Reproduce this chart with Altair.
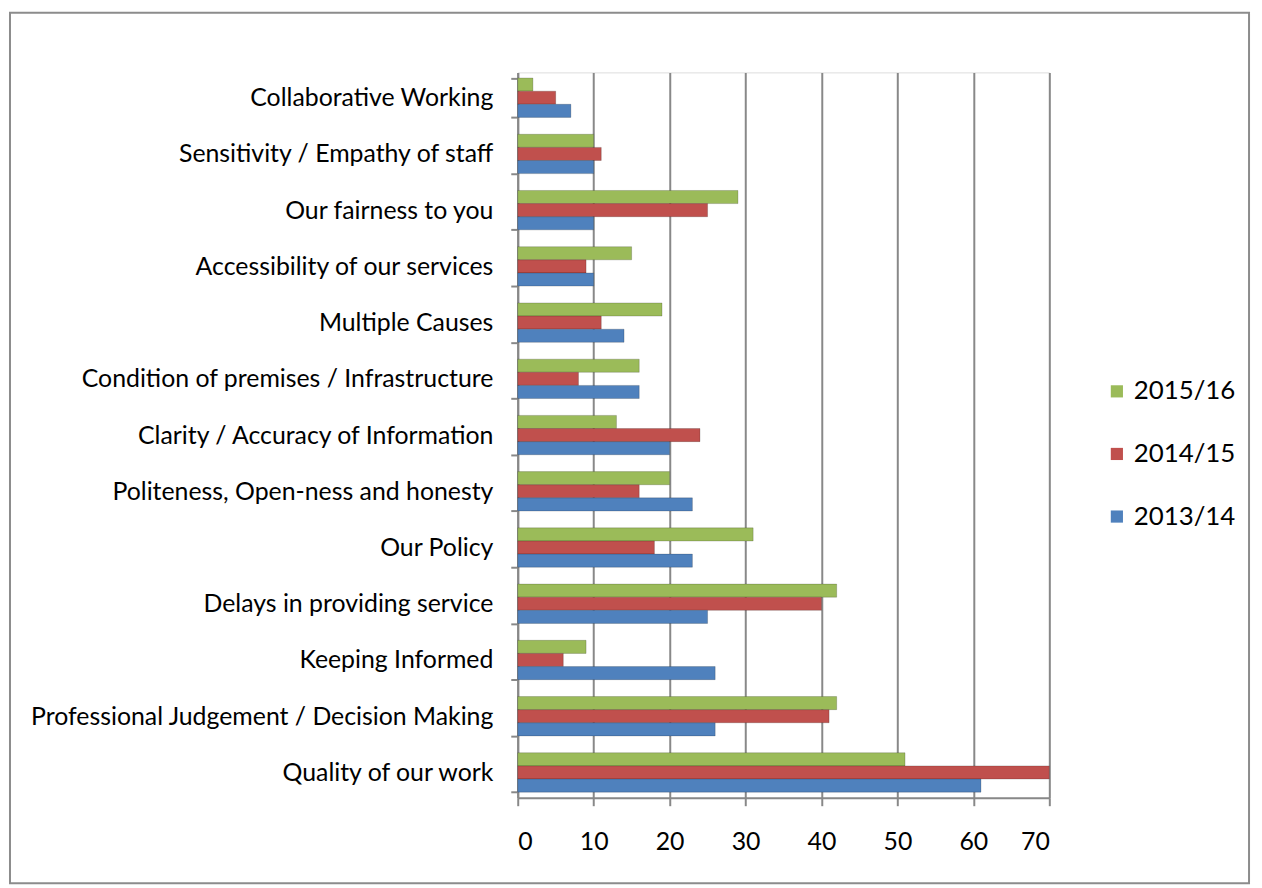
import altair as alt
import pandas as pd

categories = [
    "Collaborative Working",
    "Sensitivity / Empathy of staff",
    "Our fairness to you",
    "Accessibility of our services",
    "Multiple Causes",
    "Condition of premises / Infrastructure",
    "Clarity / Accuracy of Information",
    "Politeness, Open-ness and honesty",
    "Our Policy",
    "Delays in providing service",
    "Keeping Informed",
    "Professional Judgement / Decision Making",
    "Quality of our work",
]
series = ["2015/16", "2014/15", "2013/14"]
colors = ["#9BBB59", "#C0504D", "#4F81BD"]
v2015_16 = [2, 10, 29, 15, 19, 16, 13, 20, 31, 42, 9, 42, 51]
v2014_15 = [5, 11, 25, 9, 11, 8, 24, 16, 18, 40, 6, 41, 70]
v2013_14 = [7, 10, 10, 10, 14, 16, 20, 23, 23, 25, 26, 26, 61]

rows = []
for s, vals in zip(series, [v2015_16, v2014_15, v2013_14]):
    for c, v in zip(categories, vals):
        rows.append({"category": c, "series": s, "value": v})
df = pd.DataFrame(rows)

FONT = "Lato"

bars = alt.Chart(df).mark_bar(stroke="#00000030", strokeWidth=1).encode(
    y=alt.Y("category:N", sort=categories, title=None,
            scale=alt.Scale(paddingInner=0.3, paddingOuter=0.1),
            axis=alt.Axis(tickBand="extent", labelFontSize=25, labelFont=FONT,
                          labelColor="#000000", labelPadding=18, tickSize=7,
                          tickColor="#888888", tickWidth=2, domainColor="#888888",
                          domainWidth=2, grid=False, labelLimit=600)),
    yOffset=alt.YOffset("series:N", sort=series, scale=alt.Scale(paddingInner=0)),
    x=alt.X("value:Q", title=None,
            scale=alt.Scale(domain=[0, 70], nice=False),
            axis=alt.Axis(values=[0, 10, 20, 30, 40, 50, 60, 70], labelFontSize=25,
                          labelFont=FONT, labelColor="#000000", labelPadding=24,
                          tickSize=8, tickColor="#888888", tickWidth=2,
                          domainColor="#888888", domainWidth=2, grid=True,
                          gridColor="#888888", gridWidth=2)),
    color=alt.Color("series:N", scale=alt.Scale(domain=series, range=colors),
                    legend=alt.Legend(title=None, orient="none", legendX=590, legendY=308,
                                      symbolType="square", symbolSize=150,
                                      symbolStrokeWidth=0, labelFontSize=26,
                                      labelFont=FONT, labelColor="#000000",
                                      rowPadding=37, labelOffset=4)),
)

frame = alt.Chart(pd.DataFrame({"a": [0]})).mark_rect(
    fill=None, stroke="#8c8c8c", strokeWidth=2
).encode(x=alt.value(-511), x2=alt.value(736), y=alt.value(-60), y2=alt.value(816))

chart = alt.layer(frame, bars).properties(
    width=535, height=730,
    autosize=alt.AutoSizeParams(type="none"),
    padding={"left": 513, "top": 62, "right": 206, "bottom": 86},
).configure_view(stroke=None).configure(background="white")

chart.save("out.html", embed_options={"renderer": "svg", "actions": False})
